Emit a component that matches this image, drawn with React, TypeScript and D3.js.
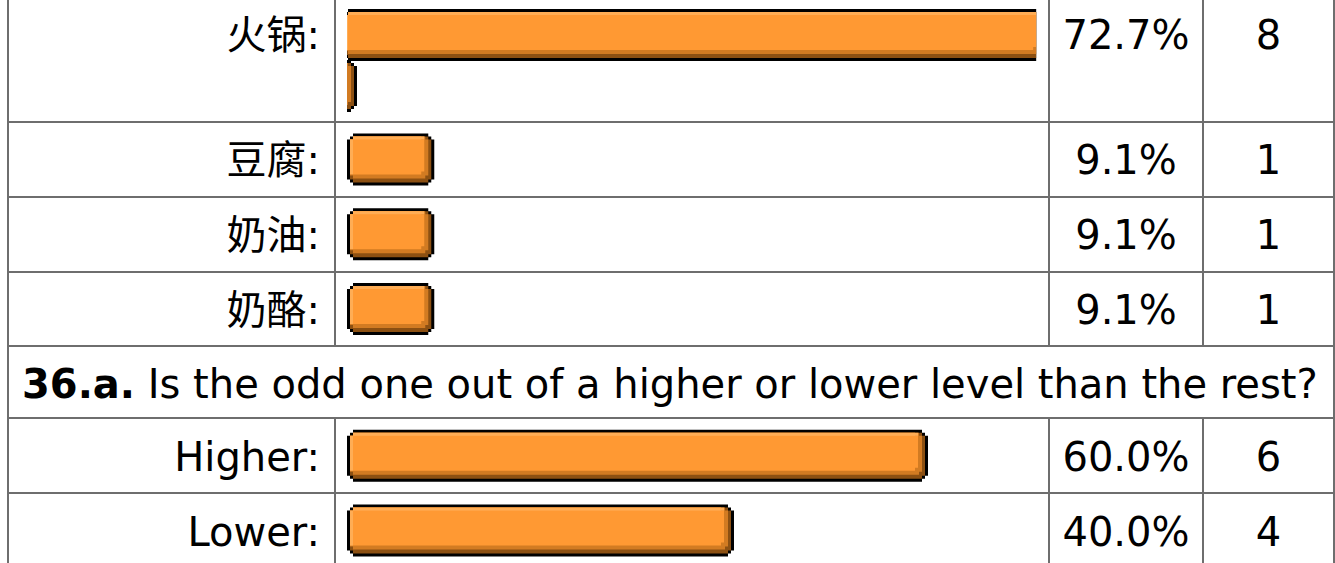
import React from "react";
import * as d3 from "d3";

const W = 1335;
const H = 563;

// Section 1 (question header above the visible area)
const foodLabels = ["火锅", "豆腐", "奶油", "奶酪"];
const foodPercents = [72.7, 9.1, 9.1, 9.1];
const foodCounts = [8, 1, 1, 1];

// Section 2
const questionNumber = "36.a.";
const questionText = " Is the odd one out of a higher or lower level than the rest?";
const levelLabels = ["Higher", "Lower"];
const levelPercents = [60.0, 40.0];
const levelCounts = [6, 4];

const FONT = "'DejaVu Sans', Verdana, 'Noto Sans CJK SC', sans-serif";
const GRID = "#6e6e6e";

const X_LEFT = 8;
const X_LABEL = 335;
const X_PCT = 1049;
const X_COUNT = 1203;
const X_RIGHT = 1334;
const BAR_X0 = 347;
const BAR_MAX = 690; // available width in bar cell
const BAR_H = 52;
const CAP_L = 5;
const CAP_R = 10;
const LINE_PITCH = 51;
const ROW_H = 74.8;
const TITLE_H = 72;
const FIRST_ROW_BOTTOM = 122;

const widthScale = d3.scaleLinear().domain([0, 100]).range([-1, 969]);

function stepped(x: number, y: number, w: number, h: number, s: number, n: number) {
  const x1 = x + w;
  const y1 = y + h;
  let p: number[][] = [];
  if (n === 2) {
    p = [
      [x, y + 2 * s], [x + s, y + 2 * s], [x + s, y + s], [x + 2 * s, y + s], [x + 2 * s, y],
      [x1 - 2 * s, y], [x1 - 2 * s, y + s], [x1 - s, y + s], [x1 - s, y + 2 * s], [x1, y + 2 * s],
      [x1, y1 - 2 * s], [x1 - s, y1 - 2 * s], [x1 - s, y1 - s], [x1 - 2 * s, y1 - s], [x1 - 2 * s, y1],
      [x + 2 * s, y1], [x + 2 * s, y1 - s], [x + s, y1 - s], [x + s, y1 - 2 * s], [x, y1 - 2 * s],
    ];
  } else {
    p = [
      [x, y + s], [x + s, y + s], [x + s, y],
      [x1 - s, y], [x1 - s, y + s], [x1, y + s],
      [x1, y1 - s], [x1 - s, y1 - s], [x1 - s, y1],
      [x + s, y1], [x + s, y1 - s], [x, y1 - s],
    ];
  }
  return "M" + p.map((q) => q.join(",")).join("L") + "Z";
}

function BarShape({ x0, y0, w }: { x0: number; y0: number; w: number }) {
  const h = BAR_H;
  return (
    <g>
      <path d={stepped(x0, y0, w, h, 3, 2)} fill="#000" />
      <path d={stepped(x0 + 3, y0 + 3, w - 6, h - 6, 3, 1)} fill="#8c5012" />
      <path d={stepped(x0 + 3, y0 + 3, w - 9, h - 10, 3, 1)} fill="#d27b22" />
      <path d={stepped(x0 + 3, y0 + 3, w - 13, h - 14, 3, 1)} fill="#ff9933" />
      <rect x={x0 + 6} y={y0 + 3} width={Math.max(0, w - 16)} height={3} fill="#ffad55" />
      <rect x={x0 + 3} y={y0 + 6} width={3} height={h - 17} fill="#ffad55" />
    </g>
  );
}

function Bar({ id, pct, centerY, wrapTop }: { id: string; pct: number; centerY: number; wrapTop: number }) {
  const w = widthScale(pct);
  if (w <= BAR_MAX) {
    return <BarShape x0={BAR_X0} y0={centerY - BAR_H / 2} w={w} />;
  }
  // wrapped: left cap on line 1, middle on line 2, right cap on line 3
  const pieces = [
    { a: 0, b: CAP_L, dy: -12 },
    { a: CAP_L, b: w - CAP_R, dy: 0 },
    { a: w - CAP_R, b: w, dy: 0 },
  ];
  return (
    <g>
      {pieces.map((pc, i) => {
        const top = wrapTop + i * LINE_PITCH + pc.dy;
        const cid = `${id}-clip-${i}`;
        return (
          <g key={i}>
            <clipPath id={cid}>
              <rect x={BAR_X0} y={top - 1} width={pc.b - pc.a} height={BAR_H + 2} />
            </clipPath>
            <g clipPath={`url(#${cid})`}>
              <BarShape x0={BAR_X0 - pc.a} y0={top} w={w} />
            </g>
          </g>
        );
      })}
    </g>
  );
}

export default function App() {
  type Row =
    | { kind: "data"; label: string; pct: number; count: number; top: number; h: number; wrap: boolean }
    | { kind: "title"; top: number; h: number };
  const rows: Row[] = [];

  const firstWrap = widthScale(foodPercents[0]) > BAR_MAX;
  const firstH = firstWrap ? 3 * LINE_PITCH + 23 : ROW_H;
  let y = FIRST_ROW_BOTTOM - firstH;
  foodLabels.forEach((lab, i) => {
    const wrap = widthScale(foodPercents[i]) > BAR_MAX;
    const h = wrap ? 3 * LINE_PITCH + 23 : ROW_H;
    rows.push({ kind: "data", label: lab, pct: foodPercents[i], count: foodCounts[i], top: y, h, wrap });
    y += h;
  });
  rows.push({ kind: "title", top: y, h: TITLE_H });
  y += TITLE_H;
  levelLabels.forEach((lab, i) => {
    rows.push({ kind: "data", label: lab, pct: levelPercents[i], count: levelCounts[i], top: y, h: ROW_H, wrap: false });
    y += ROW_H;
  });

  const r = (v: number) => Math.round(v);

  return (
    <svg
      width={W}
      height={H}
      style={{ position: "absolute", left: 0, top: 0, background: "#fff" }}
      fontFamily={FONT}
    >
      <rect x={0} y={0} width={W} height={H} fill="#fff" />
      {rows.map((row, i) => {
        const top = r(row.top);
        const bottom = r(row.top + row.h);
        const cy = row.top + row.h / 2;
        if (row.kind === "title") {
          return (
            <g key={i}>
              <line x1={X_LEFT} x2={X_RIGHT} y1={bottom} y2={bottom} stroke={GRID} strokeWidth={2} />
              <line x1={X_LEFT} x2={X_LEFT} y1={top} y2={bottom} stroke={GRID} strokeWidth={2} />
              <line x1={X_RIGHT} x2={X_RIGHT} y1={top} y2={bottom} stroke={GRID} strokeWidth={2} />
              <text x={22} y={cy + 15.5} fontSize={40} fill="#000">
                <tspan fontWeight="bold">{questionNumber}</tspan>
                <tspan>{questionText}</tspan>
              </text>
            </g>
          );
        }
        return (
          <g key={i}>
            <line x1={X_LEFT} x2={X_RIGHT} y1={bottom} y2={bottom} stroke={GRID} strokeWidth={2} />
            {[X_LEFT, X_LABEL, X_PCT, X_COUNT, X_RIGHT].map((x) => (
              <line key={x} x1={x} x2={x} y1={top} y2={bottom} stroke={GRID} strokeWidth={2} />
            ))}
            <text x={320} y={cy + 15} fontSize={40} textAnchor="end" fill="#000">
              {row.label + ":"}
            </text>
            <Bar id={`bar${i}`} pct={row.pct} centerY={cy} wrapTop={row.top + 12} />
            <text x={(X_PCT + X_COUNT) / 2} y={cy + 15} fontSize={40} textAnchor="middle" fill="#000">
              {row.pct.toFixed(1) + "%"}
            </text>
            <text x={(X_COUNT + X_RIGHT) / 2} y={cy + 15} fontSize={40} textAnchor="middle" fill="#000">
              {row.count}
            </text>
          </g>
        );
      })}
    </svg>
  );
}
